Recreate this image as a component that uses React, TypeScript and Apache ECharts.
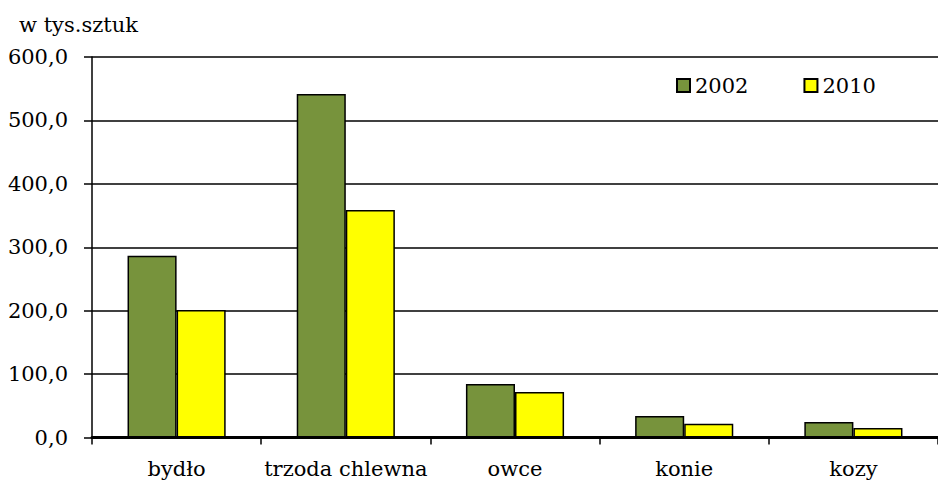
import React, { useEffect, useRef } from "react";
import * as echarts from "echarts";

const categories = ["bydło", "trzoda chlewna", "owce", "konie", "kozy"];
const values2002 = [286.5, 541.6, 84.4, 33.9, 24.4];
const values2010 = [201.0, 358.7, 71.7, 21.8, 15.0];
const seriesNames = ["2002", "2010"];
const yTicks = { min: 0, max: 600, interval: 100 };
const unitLabel = "w tys.sztuk";

const FONT = "DejaVu Serif";
const FS = 21;

export default function App() {
  const ref = useRef<HTMLDivElement>(null);
  useEffect(() => {
    if (!ref.current) return;
    const chart = echarts.init(ref.current, undefined, { renderer: "svg" });
    chart.setOption({
      animation: false,
      backgroundColor: "#ffffff",
      textStyle: { fontFamily: FONT },
      title: {
        text: unitLabel,
        left: 14,
        top: 9,
        textStyle: { fontFamily: FONT, fontSize: FS, fontWeight: "normal", color: "#000" },
      },
      legend: {
        left: 671,
        top: 70,
        icon: "rect",
        itemWidth: 13,
        itemHeight: 13,
        itemGap: 55,
        textStyle: { fontFamily: FONT, fontSize: FS, color: "#000" },
        data: seriesNames,
      },
      grid: { left: 92, top: 57, width: 858, bottom: 43.5, containLabel: false },
      xAxis: {
        type: "category",
        data: categories,
        axisLine: { lineStyle: { color: "#000", width: 3 } },
        axisTick: { show: true, interval: 0, length: 7, lineStyle: { color: "#000", width: 1.5 } },
        axisLabel: { interval: 0, fontFamily: FONT, fontSize: FS, color: "#000", margin: 21 },
      },
      yAxis: {
        type: "value",
        min: yTicks.min,
        max: yTicks.max,
        interval: yTicks.interval,
        axisLine: { show: true, lineStyle: { color: "#000", width: 1.5 } },
        axisTick: { show: true, length: 8, lineStyle: { color: "#000", width: 1.5 } },
        splitLine: { show: true, lineStyle: { color: "#000", width: 1.5 } },
        axisLabel: {
          fontFamily: FONT,
          fontSize: FS,
          color: "#000",
          margin: 24,
          formatter: (v: number) => v.toFixed(1).replace(".", ","),
        },
      },
      series: [
        {
          name: seriesNames[0],
          type: "bar",
          data: values2002,
          barGap: "0%",
          barCategoryGap: "42%",
          itemStyle: { color: "#77933C", borderColor: "#000", borderWidth: 1.5 },
        },
        {
          name: seriesNames[1],
          type: "bar",
          data: values2010,
          itemStyle: { color: "#FFFF00", borderColor: "#000", borderWidth: 1.5 },
        },
      ],
    });
    return () => chart.dispose();
  }, []);
  return (
    <div
      ref={ref}
      style={{ position: "fixed", left: 0, top: 0, width: 938, height: 481, background: "#fff" }}
    />
  );
}
